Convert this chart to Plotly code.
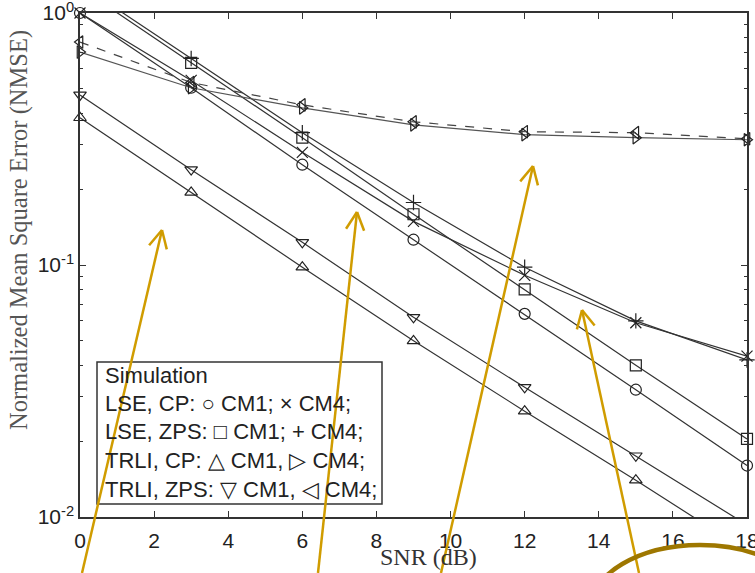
import math
import plotly.graph_objects as go

# ---------------- data ----------------
snr = [0, 3, 6, 9, 12, 15, 18]
lse_cp_cm1 = [1.0, 0.505, 0.25, 0.126, 0.064, 0.032, 0.016]
lse_cp_cm4 = [1.0, 0.54, 0.28, 0.149, 0.091, 0.059, 0.0435]
lse_zps_cm1 = [1.26, 0.634, 0.32, 0.159, 0.080, 0.040, 0.0204]
lse_zps_cm4 = [1.3, 0.66, 0.335, 0.177, 0.098, 0.060, 0.042]
trli_cp_cm1 = [0.384, 0.194, 0.098, 0.050, 0.0263, 0.014, 0.0073]
trli_zps_cm1 = [0.473, 0.239, 0.123, 0.062, 0.0327, 0.0175, 0.0093]
trli_cp_cm4 = [0.70, 0.505, 0.42, 0.36, 0.329, 0.32, 0.314]
trli_zps_cm4 = [0.767, 0.53, 0.432, 0.37, 0.338, 0.335, 0.317]

x_ticks = [0, 2, 4, 6, 8, 10, 12, 14, 16, 18]
y_tickvals = [0.01, 0.1, 1]
y_ticktext = ["10<sup>-2</sup>", "10<sup>-1</sup>", "10<sup>0</sup>"]
y_minor = [m * d for d in (0.01, 0.1) for m in range(2, 10)]

legend_lines = [
    "Simulation",
    "LSE, CP: \u25cb CM1; \u00d7 CM4;",
    "LSE, ZPS: \u25a1 CM1; + CM4;",
    "TRLI, CP: \u25b3 CM1, \u25b7 CM4;",
    "TRLI, ZPS: \u25bd CM1, \u25c1 CM4;",
]

series = [
    (lse_cp_cm1, "circle-open", "#333333", "solid"),
    (lse_cp_cm4, "x-thin-open", "#333333", "solid"),
    (lse_zps_cm1, "square-open", "#333333", "solid"),
    (lse_zps_cm4, "cross-thin-open", "#333333", "solid"),
    (trli_cp_cm1, "triangle-up-open", "#333333", "solid"),
    (trli_zps_cm1, "triangle-down-open", "#333333", "solid"),
    (trli_cp_cm4, "triangle-right-open", "#555555", "solid"),
    (trli_zps_cm4, "triangle-left-open", "#444444", "dash"),
]

W, H = 755, 573
L, R, T, B = 80, 8, 13, 56
PW, PH = W - L - R, H - T - B


def px(xp):
    return (xp - L) / PW


def py(yp):
    return (H - B - yp) / PH


fig = go.Figure()
for vals, sym, col, dash in series:
    fig.add_trace(go.Scatter(
        x=snr, y=vals, mode="lines",
        line=dict(color=col, width=1.2, dash=dash),
        cliponaxis=True, showlegend=False, hoverinfo="skip"))
    xin = [s for s, v in zip(snr, vals) if 0.0099 <= v <= 1.01]
    yin = [v for v in vals if 0.0099 <= v <= 1.01]
    fig.add_trace(go.Scatter(
        x=xin, y=yin, mode="markers",
        marker=dict(symbol=sym, size=11, color="#222222",
                    line=dict(color="#222222", width=1.2)),
        cliponaxis=False, showlegend=False))

axis_common = dict(
    showgrid=False, zeroline=False, showline=True, linecolor="#333333",
    linewidth=1.5, mirror="allticks", ticks="inside", ticklen=6,
    tickcolor="#333333", automargin=False, ticklabeloverflow="allow",
    tickfont=dict(family="Liberation Sans, Arial", size=21, color="#222222"),
)

fig.update_xaxes(range=[0, 18], tickvals=x_ticks, ticklabelstandoff=4, **axis_common)
fig.update_yaxes(type="log", range=[-2, 0], tickvals=y_tickvals,
                 ticktext=y_ticktext,
                 minor=dict(ticks="inside", ticklen=3, tickcolor="#333333",
                            tickvals=y_minor, showgrid=False),
                 **axis_common)

shapes = []
annotations = []

# legend box
shapes.append(dict(type="rect", xref="paper", yref="paper",
                   x0=px(97), x1=px(382), y0=py(504), y1=py(362),
                   line=dict(color="#333333", width=1.5),
                   fillcolor="white", layer="above"))
for i, t in enumerate(legend_lines):
    annotations.append(dict(
        xref="paper", yref="paper", x=px(103), y=py(375 + 28.5 * i),
        xanchor="left", yanchor="middle", text=t, showarrow=False,
        font=dict(family="Liberation Sans, Arial", size=22, color="#222222")))

# axis titles
annotations.append(dict(
    xref="paper", yref="paper", x=px(19), y=py(230), text="Normalized Mean Square Error (NMSE)",
    textangle=-90, showarrow=False, xanchor="center", yanchor="middle",
    font=dict(family="Liberation Serif, Times New Roman", size=24.5, color="#555555")))
annotations.append(dict(
    xref="paper", yref="paper", x=px(428), y=py(557), text="SNR (dB)",
    showarrow=False, xanchor="center", yanchor="middle",
    font=dict(family="Liberation Serif, Times New Roman", size=24, color="#333333")))

# golden arrows (head, tail in pixels)
arrows = [((162, 230), (82, 573)), ((357, 212), (318, 573)),
          ((533, 166), (441, 573)), ((582, 310), (639, 573))]
acol = "#D09C00"
for (hx, hy), (tx, ty) in arrows:
    shapes.append(dict(type="line", xref="paper", yref="paper",
                       x0=px(hx), y0=py(hy), x1=px(tx), y1=py(ty),
                       line=dict(color=acol, width=2.5)))
    dx, dy = tx - hx, ty - hy
    n = math.hypot(dx, dy)
    ux, uy = dx / n, dy / n
    for ang in (math.radians(27), math.radians(-27)):
        rx = ux * math.cos(ang) - uy * math.sin(ang)
        ry = ux * math.sin(ang) + uy * math.cos(ang)
        shapes.append(dict(type="line", xref="paper", yref="paper",
                           x0=px(hx), y0=py(hy), x1=px(hx + 20 * rx), y1=py(hy + 20 * ry),
                           line=dict(color=acol, width=2.5)))

# dark gold ellipse at bottom right
shapes.append(dict(type="circle", xref="paper", yref="paper",
                   x0=px(590), x1=px(810), y0=py(675), y1=py(545),
                   line=dict(color="#9E7700", width=4.5)))

fig.update_layout(
    width=W, height=H, margin=dict(l=L, r=R, t=T, b=B, autoexpand=False),
    paper_bgcolor="white", plot_bgcolor="white",
    shapes=shapes, annotations=annotations, showlegend=False,
)

fig.write_html("out.html", config={"displayModeBar": False},
               post_script="document.body.style.margin='0px';document.body.style.overflow='hidden';")
